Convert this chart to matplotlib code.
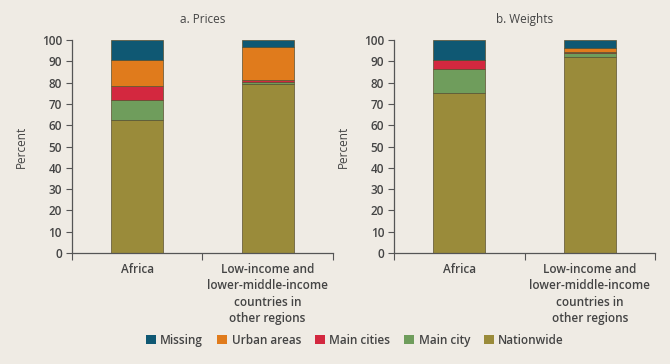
import matplotlib
matplotlib.use("Agg")
import matplotlib.pyplot as plt
from matplotlib.patches import Patch

plt.rcParams['font.family'] = ['Open Sans', 'DejaVu Sans']
plt.rcParams['font.weight'] = 'semibold'

categories = ["Africa", "Low-income and\nlower-middle-income\ncountries in\nother regions"]
series_names = ["Nationwide", "Main city", "Main cities", "Urban areas", "Missing"]
colors = {"Nationwide": "#9a8b3a", "Main city": "#6f9d5c", "Main cities": "#d3283f",
          "Urban areas": "#e07b1c", "Missing": "#0f5873"}

prices = {
    "Nationwide": [62.3, 79.5],
    "Main city": [9.5, 1.0],
    "Main cities": [6.6, 0.9],
    "Urban areas": [12.1, 15.1],
    "Missing": [9.5, 3.5],
}
weights = {
    "Nationwide": [75.0, 92.2],
    "Main city": [11.2, 1.6],
    "Main cities": [4.4, 0.7],
    "Urban areas": [0.0, 1.9],
    "Missing": [9.4, 3.6],
}
panel_titles = ["a. Prices", "b. Weights"]
yticks = [0, 10, 20, 30, 40, 50, 60, 70, 80, 90, 100]

bg = "#efebe4"
txt = "#444444"
spine = "#555555"

fig = plt.figure(figsize=(6.7, 3.64), dpi=100, facecolor=bg)
axes = [fig.add_axes([0.107, 0.305, 0.39, 0.585]),
        fig.add_axes([0.588, 0.305, 0.39, 0.585])]

for ax, data, title in zip(axes, [prices, weights], panel_titles):
    ax.set_facecolor(bg)
    x = list(range(len(categories)))
    bottom = [0.0] * len(categories)
    for s in series_names:
        vals = data[s]
        ax.bar(x, vals, width=0.4, bottom=bottom, color=colors[s],
               edgecolor="#5a5030", linewidth=0.5)
        bottom = [b + v for b, v in zip(bottom, vals)]
    ax.set_xlim(-0.5, 1.5)
    ax.set_ylim(0, 100)
    ax.set_yticks(yticks)
    ax.set_xticks(x)
    ax.set_xticklabels(categories, fontsize=8.5, color=txt, linespacing=1.35)
    ax.set_xticks([-0.5, 0.5, 1.5], minor=True)
    ax.tick_params(axis='x', which='major', length=0, pad=7)
    ax.tick_params(axis='x', which='minor', length=5, width=0.8, color=spine, direction='out')
    ax.tick_params(axis='y', length=4, width=0.8, color=spine, labelsize=8.5, labelcolor=txt, pad=3)
    for k in ['top', 'right']:
        ax.spines[k].set_visible(False)
    for k in ['left', 'bottom']:
        ax.spines[k].set_color(spine)
        ax.spines[k].set_linewidth(0.9)
    ax.set_ylabel("Percent", fontsize=8.5, color=txt, labelpad=10)
    ax.set_title(title, fontsize=8.5, color=txt, pad=12)

handles = [Patch(facecolor=colors[s], edgecolor='none') for s in
           ["Missing", "Urban areas", "Main cities", "Main city", "Nationwide"]]
labels = ["Missing", "Urban areas", "Main cities", "Main city", "Nationwide"]
fig.legend(handles, labels, loc='center', bbox_to_anchor=(0.53, 0.065), ncol=5,
           frameon=False, fontsize=8.5, handlelength=0.8, handleheight=0.8,
           handletextpad=0.4, columnspacing=1.2, labelcolor=txt)

fig.savefig("out.png", dpi=100, facecolor=bg)
